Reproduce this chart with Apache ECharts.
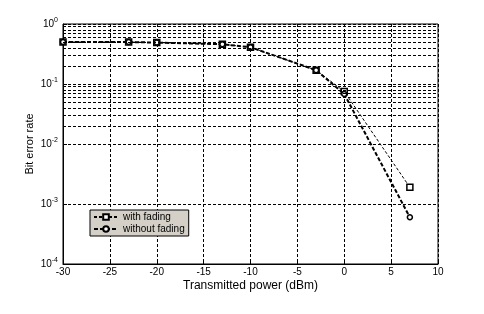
<!DOCTYPE html>
<html><head><meta charset="utf-8">
<script src="https://cdn.jsdelivr.net/npm/echarts@6/dist/echarts.min.js"></script>
<style>html,body{margin:0;padding:0;background:#fff}#c{width:484px;height:314px}</style>
</head><body><div id="c"></div>
<script>
const xTicks = [-30, -25, -20, -15, -10, -5, 0, 5, 10];
const powerFading = [-30, -23, -20, -13, -10, -3, 0, 7];
const berFading = [0.5, 0.5, 0.49, 0.46, 0.41, 0.17, 0.075, 0.0019];
const powerNoFading = [-30, -23, -20, -13, -10, -3, 0, 7];
const berNoFading = [0.5, 0.5, 0.49, 0.46, 0.41, 0.17, 0.068, 0.0006];
const minorGrid = [];
[1e-4, 1e-3, 1e-2, 1e-1].forEach(d => { for (let k = 2; k <= 9; k++) minorGrid.push(+(d * k).toPrecision(3)); });

const font = 'Liberation Sans';
const chart = echarts.init(document.getElementById('c'));
chart.setOption({
  animation: false,
  backgroundColor: '#fff',
  grid: { left: 63, right: 46, top: 24, bottom: 50, show: true, borderColor: '#000', borderWidth: 1, backgroundColor: 'transparent' },
  legend: {
    orient: 'vertical', left: 90, top: 210,
    backgroundColor: '#d4d0c8', borderColor: '#000', borderWidth: 1,
    padding: [2, 4, 2, 3], itemGap: 2, itemWidth: 24, itemHeight: 7,
    textStyle: { fontFamily: font, fontSize: 10, color: '#000' },
    data: ['with fading', 'without fading']
  },
  xAxis: {
    type: 'value', min: -30, max: 10, interval: 5,
    name: 'Transmitted power (dBm)', nameLocation: 'middle', nameGap: 16,
    nameMoveOverlap: false,
    nameTextStyle: { fontFamily: font, fontSize: 12, color: '#000' },
    axisLine: { show: true, onZero: false, lineStyle: { color: '#000' } },
    axisTick: { inside: true, length: 4, lineStyle: { color: '#000' } },
    axisLabel: { fontFamily: font, fontSize: 10, color: '#000', margin: 3,
      customValues: xTicks },
    splitLine: { show: true, lineStyle: { color: '#000', type: [3, 2], width: 1 } }
  },
  yAxis: {
    type: 'log', logBase: 10, min: 1e-4, max: 1,
    name: 'Bit error rate', nameLocation: 'middle', nameGap: 28,
    nameMoveOverlap: false,
    nameTextStyle: { fontFamily: font, fontSize: 11, color: '#000' },
    axisLine: { show: true, onZero: false, lineStyle: { color: '#000' } },
    axisTick: { inside: true, length: 4, lineStyle: { color: '#000' } },
    axisLabel: {
      margin: 5, color: '#000',
      formatter: v => '10{s|' + Math.round(Math.log10(v)) + '}',
      rich: { s: { fontFamily: font, fontSize: 7, color: '#000', padding: [0, 0, 8, 0] } },
      fontFamily: font, fontSize: 10
    },
    splitLine: { show: true, lineStyle: { color: '#000', type: [3, 2], width: 1 } }
  },
  series: [
    {
      name: 'grid', type: 'line', data: [], silent: true,
      markLine: {
        silent: true, symbol: 'none', animation: false,
        label: { show: false },
        lineStyle: { color: '#000', type: [3, 2], width: 1 },
        data: minorGrid.map(v => ({ yAxis: v }))
      }
    },
    {
      name: 'with fading', type: 'line',
      data: powerFading.map((x, i) => [x, berFading[i]]),
      symbol: 'rect', symbolSize: 6,
      itemStyle: { color: '#fff', borderColor: '#000', borderWidth: 1.5 },
      lineStyle: { color: '#000', width: 1, type: [3, 2] },
      z: 3
    },
    {
      name: 'without fading', type: 'line',
      data: powerNoFading.map((x, i) => [x, berNoFading[i]]),
      symbol: 'circle', symbolSize: 5,
      itemStyle: { color: '#fff', borderColor: '#000', borderWidth: 1.5 },
      lineStyle: { color: '#000', width: 2, type: [4, 2] },
      z: 4
    }
  ]
});
</script></body></html>
